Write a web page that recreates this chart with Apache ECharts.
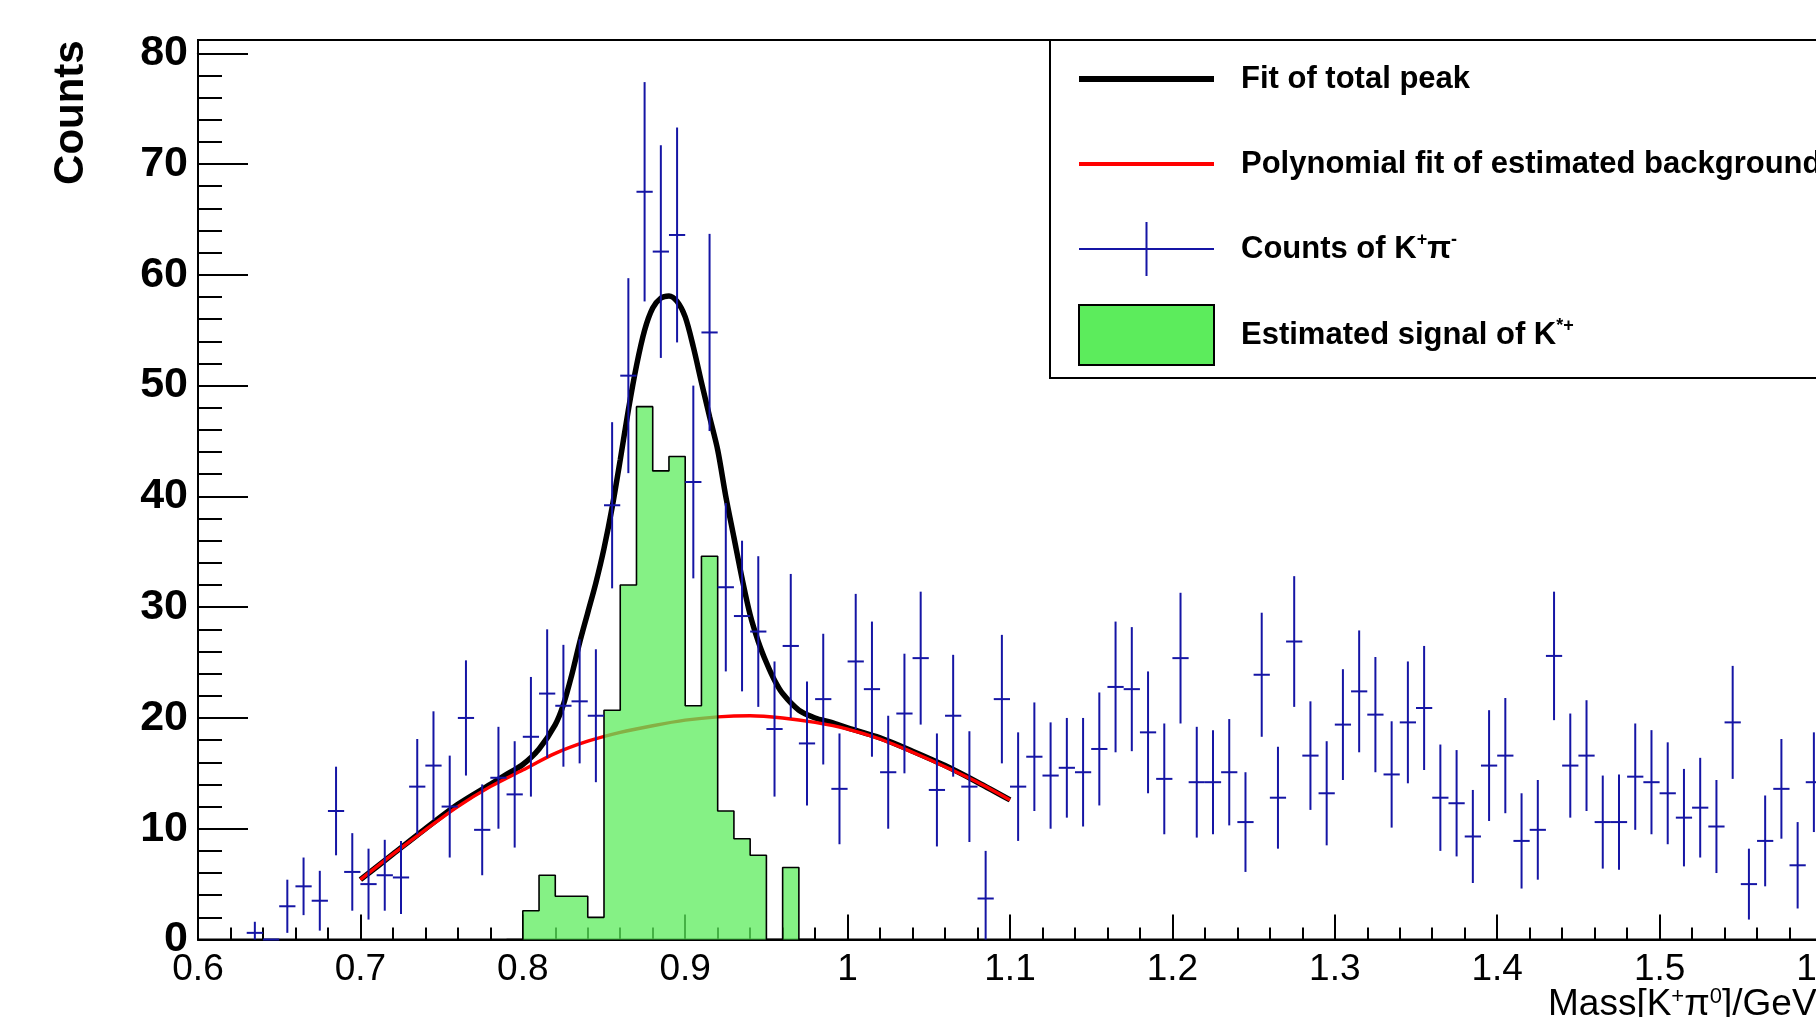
<!DOCTYPE html>
<html>
<head>
<meta charset="utf-8">
<script src="https://cdn.jsdelivr.net/npm/echarts@6.0.0/dist/echarts.min.js"></script>
<style>
html, body { margin: 0; padding: 0; background: #fff; overflow: hidden; }
#main { width: 1816px; height: 1017px; }
</style>
</head>
<body>
<div id="main"></div>
<script>
// bin centres of the K+pi- histogram (bin width 0.01)
var binWidth = 0.01;
var countsX = [0.635, 0.645, 0.655, 0.665, 0.675, 0.685, 0.695, 0.705, 0.715, 0.725,
    0.735, 0.745, 0.755, 0.765, 0.775, 0.785, 0.795, 0.805, 0.815, 0.825,
    0.835, 0.845, 0.855, 0.865, 0.875, 0.885, 0.895, 0.905, 0.915, 0.925,
    0.935, 0.945, 0.955, 0.965, 0.975, 0.985, 0.995, 1.005, 1.015, 1.025,
    1.035, 1.045, 1.055, 1.065, 1.075, 1.085, 1.095, 1.105, 1.115, 1.125,
    1.135, 1.145, 1.155, 1.165, 1.175, 1.185, 1.195, 1.205, 1.215, 1.225,
    1.235, 1.245, 1.255, 1.265, 1.275, 1.285, 1.295, 1.305, 1.315, 1.325,
    1.335, 1.345, 1.355, 1.365, 1.375, 1.385, 1.395, 1.405, 1.415, 1.425,
    1.435, 1.445, 1.455, 1.465, 1.475, 1.485, 1.495, 1.505, 1.515, 1.525,
    1.535, 1.545, 1.555, 1.565, 1.575, 1.585, 1.595];
var countsY = [0.6, 0, 3.0, 4.8, 3.5, 11.6, 6.1, 5.0, 5.8, 5.6,
    13.8, 15.7, 12.0, 20.0, 9.9, 14.6, 13.1, 18.3, 22.2, 21.1,
    21.5, 20.2, 39.2, 50.9, 67.5, 62.1, 63.6, 41.3, 54.8, 31.8,
    29.2, 27.8, 19.0, 26.5, 17.7, 21.7, 13.6, 25.1, 22.6, 15.1,
    20.4, 25.4, 13.5, 20.2, 13.8, 3.7, 21.7, 13.8, 16.5, 14.8,
    15.5, 15.1, 17.2, 22.8, 22.6, 18.7, 14.5, 25.4, 14.2, 14.2,
    15.1, 10.6, 23.9, 12.8, 26.9, 16.6, 13.2, 19.4, 22.4, 20.3,
    14.9, 19.6, 20.9, 12.8, 12.3, 9.3, 15.7, 16.6, 8.9, 9.9,
    25.6, 15.7, 16.6, 10.6, 10.6, 14.7, 14.2, 13.2, 11.0, 11.9,
    10.2, 19.6, 5.0, 8.9, 13.6, 6.7, 14.2];
var countsErr = [1.0, 0, 2.4, 2.6, 2.7, 4.0, 3.5, 3.2, 3.2, 3.3,
    4.3, 4.9, 4.6, 5.2, 4.1, 4.6, 4.8, 5.4, 5.8, 5.5,
    5.6, 6.0, 7.5, 8.8, 9.9, 9.6, 9.7, 8.7, 8.9, 7.6,
    6.8, 6.8, 6.1, 6.5, 5.6, 5.9, 5.0, 6.1, 6.1, 5.1,
    5.4, 6.0, 5.1, 5.5, 5.0, 4.3, 5.8, 4.9, 4.9, 4.8,
    4.5, 4.9, 5.1, 5.9, 5.6, 5.5, 5.0, 5.9, 5.0, 4.7,
    4.8, 4.5, 5.6, 4.6, 5.9, 4.9, 4.7, 5.0, 5.5, 5.2,
    4.8, 5.5, 5.6, 4.8, 4.8, 4.2, 5.0, 5.2, 4.3, 4.5,
    5.8, 4.7, 5.0, 4.2, 4.3, 4.8, 4.7, 4.6, 4.4, 4.5,
    4.2, 5.1, 3.2, 4.1, 4.5, 3.9, 4.5];

// estimated K*+ signal histogram
var signalX = [0.795, 0.805, 0.815, 0.825, 0.835, 0.845, 0.855, 0.865, 0.875, 0.885,
    0.895, 0.905, 0.915, 0.925, 0.935, 0.945, 0.955, 0.965, 0.975];
var signalY = [0, 2.6, 5.8, 3.9, 3.9, 2.0, 20.7, 32.0, 48.1, 42.3,
    43.6, 21.1, 34.6, 11.6, 9.1, 7.6, 0, 6.5, 0];

// fitted curves
var totalX = [0.70, 0.72, 0.74, 0.76, 0.78, 0.79, 0.80, 0.81, 0.82, 0.825,
    0.83, 0.835, 0.84, 0.845, 0.85, 0.855, 0.86, 0.865, 0.87, 0.875,
    0.88, 0.885, 0.89, 0.895, 0.90, 0.905, 0.91, 0.915, 0.92, 0.925,
    0.93, 0.935, 0.94, 0.945, 0.95, 0.955, 0.96, 0.97, 0.98, 0.99,
    1.00, 1.02, 1.04, 1.06, 1.08, 1.10];
var totalY = [5.4, 7.7, 10.0, 12.2, 14.0, 14.9, 15.8, 17.2, 19.4, 21.2,
    23.8, 26.8, 29.5, 32.2, 35.3, 39.0, 43.3, 47.8, 51.8, 55.0,
    57.0, 57.9, 58.1, 57.6, 56.2, 53.5, 50.3, 47.2, 44.2, 40.0,
    36.3, 32.6, 29.3, 26.9, 25.0, 23.4, 22.2, 20.7, 20.0, 19.6,
    19.1, 18.2, 17.0, 15.7, 14.2, 12.6];
var bgX = [0.70, 0.72, 0.74, 0.76, 0.78, 0.80, 0.82, 0.84, 0.86, 0.88,
    0.90, 0.92, 0.94, 0.96, 0.98, 1.00, 1.02, 1.04, 1.06, 1.08, 1.10];
var bgY = [5.4, 7.7, 9.9, 12.0, 13.8, 15.3, 16.8, 17.9, 18.7, 19.3,
    19.8, 20.1, 20.2, 20.0, 19.6, 19.0, 18.1, 16.9, 15.6, 14.2, 12.6];

var xTicks = { min: 0.6, max: 1.7, step: 0.1 };
var yTicks = { min: 0, max: 80, step: 10 };

var font = "'Liberation Sans', Arial, Helvetica, sans-serif";
var blue = '#1515a5';
var green = '#5cec5c';

function zip(xs, ys) {
    return xs.map(function (x, i) { return [x, ys[i]]; });
}

// outline of the signal histogram: two points per bin
var signalSteps = [];
signalX.forEach(function (x, i) {
    signalSteps.push([x - binWidth / 2, signalY[i]]);
    signalSteps.push([x + binWidth / 2, signalY[i]]);
});

var countsData = countsX.map(function (x, i) {
    return [x, countsY[i], countsErr[i]];
});

function renderErrorBar(params, api) {
    var x = api.value(0), y = api.value(1), e = api.value(2);
    var top = api.coord([x, y + e]);
    var bot = api.coord([x, Math.max(y - e, 0)]);
    var left = api.coord([x - binWidth / 2, y]);
    var right = api.coord([x + binWidth / 2, y]);
    var style = { stroke: api.visual('color'), lineWidth: 2 };
    return {
        type: 'group',
        children: [
            { type: 'line', shape: { x1: top[0], y1: top[1], x2: bot[0], y2: bot[1] }, style: style },
            { type: 'line', shape: { x1: left[0], y1: left[1], x2: right[0], y2: right[1] }, style: style }
        ]
    };
}

var legendText = {
    'Fit of total peak': 'Fit of total peak',
    'Polynomial fit of estimated background': 'Polynomial fit of estimated background',
    'Counts of K+π-': 'Counts of K{sup|+}π{sup|-}',
    'Estimated signal of K*+': 'Estimated signal of K{sup|*+}'
};

var chart = echarts.init(document.getElementById('main'));

// the plot frame runs past the right edge of the picture
var option = {
    animation: false,
    backgroundColor: '#fff',
    title: {
        // x axis title, sits under the right end of the axis
        text: 'Mass[K{sup|+}π{sup|0}]/GeV',
        left: 1548,
        top: 986,
        padding: 0,
        textStyle: {
            fontFamily: font, fontSize: 37, fontWeight: 'normal', color: '#000',
            rich: { sup: { fontFamily: font, fontSize: 22, color: '#000', verticalAlign: 'top' } }
        }
    },
    grid: [
        { left: 198, top: 53.3, bottom: 77.5, right: -168.4, outerBoundsMode: 'none', containLabel: false },
        { left: 198, top: 40, bottom: 77.5, right: -168.4, outerBoundsMode: 'none', containLabel: false,
          show: true, borderColor: '#000', borderWidth: 2, backgroundColor: 'transparent' }
    ],
    xAxis: [{
        type: 'value',
        gridIndex: 0,
        min: xTicks.min,
        max: xTicks.max,
        interval: xTicks.step,
        axisLine: { onZero: false, lineStyle: { color: '#000', width: 2 } },
        axisTick: { inside: true, length: 25, lineStyle: { color: '#000', width: 2 } },
        minorTick: { show: true, splitNumber: 5, length: 12, lineStyle: { color: '#000', width: 2 } },
        splitLine: { show: false },
        axisLabel: { fontFamily: font, fontSize: 37, color: '#000', margin: 12 }
    }, {
        type: 'value', gridIndex: 1, show: false, min: 0, max: 1
    }],
    yAxis: [{
        type: 'value',
        gridIndex: 0,
        min: yTicks.min,
        max: yTicks.max,
        interval: yTicks.step,
        name: 'Counts',
        nameLocation: 'end',
        nameRotate: 90,
        nameGap: 13,
        nameTextStyle: {
            fontFamily: font, fontSize: 42, fontWeight: 'bold', color: '#000',
            align: 'right', verticalAlign: 'bottom', padding: [0, 0, 106, 0]
        },
        axisLine: { lineStyle: { color: '#000', width: 2 } },
        axisTick: { inside: true, length: 50, lineStyle: { color: '#000', width: 2 } },
        minorTick: { show: true, splitNumber: 5, length: 24, lineStyle: { color: '#000', width: 2 } },
        splitLine: { show: false },
        axisLabel: { fontFamily: font, fontSize: 43, fontWeight: 'bold', color: '#000', margin: 10 }
    }, {
        type: 'value', gridIndex: 1, show: false, min: 0, max: 1
    }],
    legend: {
        orient: 'vertical',
        left: 1050,
        top: 40,
        padding: [9, 20, 12, 26],
        itemGap: 25,
        itemWidth: 135,
        itemHeight: 60,
        backgroundColor: '#fff',
        borderColor: '#000',
        borderWidth: 2,
        borderRadius: 0,
        selectedMode: false,
        formatter: function (name) { return legendText[name]; },
        textStyle: {
            fontFamily: font, fontSize: 31, fontWeight: 'bold', color: '#000',
            lineHeight: 36, padding: [12, 0, 12, 22],
            rich: { sup: { fontFamily: font, fontSize: 18, fontWeight: 'bold', color: '#000', verticalAlign: 'top', lineHeight: 36 } }
        },
        data: [
            { name: 'Fit of total peak', itemStyle: { opacity: 0 }, lineStyle: { width: 6, color: '#000' } },
            { name: 'Polynomial fit of estimated background', itemStyle: { opacity: 0 }, lineStyle: { width: 4, color: '#ff0000' } },
            { name: 'Counts of K+π-', icon: 'path://M0,29L135,29L135,31L0,31Z M66.5,3L68.5,3L68.5,57L66.5,57Z M0,0L0.01,0 M135,60L134.99,60',
              itemStyle: { color: blue } },
            { name: 'Estimated signal of K*+', icon: 'rect',
              itemStyle: { color: green, borderColor: '#000', borderWidth: 2 } }
        ]
    },
    series: [
        {
            name: 'Fit of total peak',
            type: 'line',
            xAxisIndex: 0, yAxisIndex: 0,
            data: zip(totalX, totalY),
            smooth: 0.3,
            symbol: 'none',
            lineStyle: { color: '#000', width: 5.5 },
            itemStyle: { color: '#000' },
            z: 2
        },
        {
            name: 'Polynomial fit of estimated background',
            type: 'line',
            xAxisIndex: 0, yAxisIndex: 0,
            data: zip(bgX, bgY),
            smooth: 0.3,
            symbol: 'none',
            lineStyle: { color: '#ff0000', width: 3.4 },
            itemStyle: { color: '#ff0000' },
            z: 3
        },
        {
            name: 'Estimated signal of K*+',
            type: 'line',
            xAxisIndex: 0, yAxisIndex: 0,
            data: signalSteps,
            symbol: 'none',
            lineStyle: { color: '#000', width: 1.6 },
            itemStyle: { color: green },
            areaStyle: { color: green, opacity: 0.75 },
            z: 4
        },
        {
            name: 'Counts of K+π-',
            type: 'custom',
            xAxisIndex: 0, yAxisIndex: 0,
            renderItem: renderErrorBar,
            encode: { x: 0, y: 1 },
            data: countsData,
            itemStyle: { color: blue },
            z: 5
        }
    ]
};

chart.setOption(option);
window.addEventListener('resize', function () {
    chart.resize();
});
</script>
</body>
</html>
